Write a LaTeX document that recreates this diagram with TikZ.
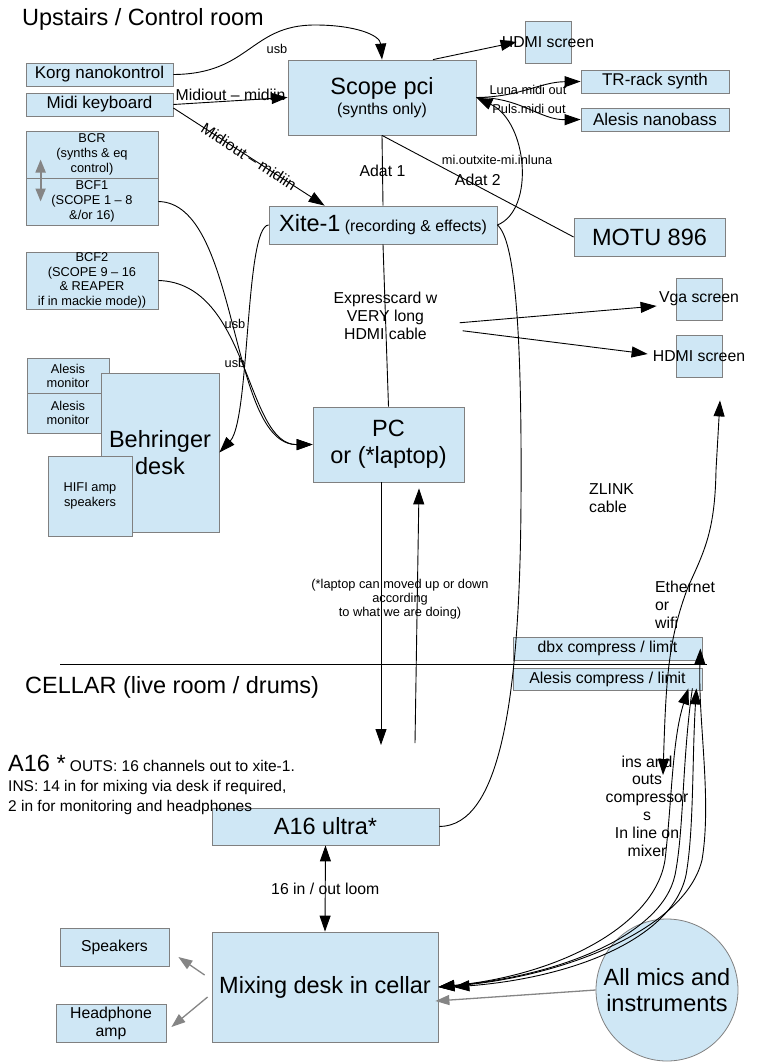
\documentclass[tikz,border=0pt]{standalone}
\usepackage{fontspec}
\setmainfont{Liberation Sans}
\usepackage{xcolor}
\usepackage{tikz}
\usetikzlibrary{positioning, arrows.meta, calc, shapes.geometric}

\definecolor{boxfill}{HTML}{CFE7F5}
\definecolor{boxline}{HTML}{808080}
\definecolor{greyarrow}{HTML}{858585}

\newcommand{\szbig}{\fontsize{23.5}{26.7}\selectfont}
\newcommand{\szbox}{\fontsize{17}{19}\selectfont}
\newcommand{\szmid}{\fontsize{15.8}{18}\selectfont}
\newcommand{\szsmall}{\fontsize{12.8}{15.3}\selectfont}

\begin{document}
\begin{tikzpicture}[x=1pt, y=-1pt,
	box/.style={draw=boxline, fill=boxfill, inner sep=0.5pt, align=center, line width=0.8pt},
	txt/.style={inner sep=0pt, align=center},
	wire/.style={line width=0.9pt},
	>={Triangle[length=16pt, width=11pt]},
	greywire/.style={draw=greyarrow, line width=1.3pt, -{Triangle[length=14pt, width=10pt]}}]
	\useasboundingbox (0,0) rectangle (774,1062);

	% Headings
	\node[txt, anchor=base west, font=\szbig] (upstairs) at (22,26) {Upstairs / Control room};
	\node[txt, anchor=base west, font=\szbig] (cellar) at (25,693) {CELLAR (live room / drums)};
	\draw[wire] (60,664) -- (707,664);

	% Upstairs gear
	\node[box, minimum width=147pt, minimum height=23pt, font=\szbox] (korg) at (99.5,74.5) {Korg nanokontrol};
	\node[box, minimum width=147pt, minimum height=23pt, font=\szbox] (midikb) at (99.5,104.5) {Midi keyboard};
	\node[box, minimum width=132pt, minimum height=47pt, font=\szsmall] (bcr) at (92,154.5) {BCR\\(synths \& eq\\control)};
	\node[box, minimum width=132pt, minimum height=47pt, font=\szsmall] (bcfone) at (92,201.5) {BCF1\\(SCOPE 1 -- 8\\\&/or 16)};
	\node[box, minimum width=132pt, minimum height=57pt, font=\fontsize{12.8}{14.5}\selectfont] (bcftwo) at (92,280.5) {BCF2\\(SCOPE 9 -- 16\\\& REAPER\\if in mackie mode))};
	\node[box, minimum width=82pt, minimum height=36pt, font=\fontsize{12.8}{14}\selectfont] (alesisa) at (68,376) {Alesis\\monitor};
	\node[box, minimum width=82pt, minimum height=40pt, font=\fontsize{12.8}{14}\selectfont] (alesisb) at (68,413) {Alesis\\monitor};
	\node[box, minimum width=118pt, minimum height=159pt, font=\szbig] (behringer) at (160,452.5) {Behringer\\desk};
	\node[box, minimum width=84pt, minimum height=80pt, font=\szsmall] (hifi) at (90,496) {HIFI amp\\speakers};

	\node[box, minimum width=188pt, minimum height=75pt, font=\szmid] (scope) at (382,97.5) {{\szbig Scope pci}\\[2pt](synths only)};
	\node[box, minimum width=46pt, minimum height=42pt, label={[txt, font=\szmid]center:HDMI screen}] (hdmia) at (548,42) {};
	\node[box, minimum width=148pt, minimum height=23pt, font=\szbox] (trrack) at (655,81.5) {TR-rack synth};
	\node[box, minimum width=148pt, minimum height=23pt, font=\szbox] (nanobass) at (655,119.5) {Alesis nanobass};
	\node[box, minimum width=151pt, minimum height=38pt, font=\szbig] (motu) at (649.5,237) {MOTU 896};
	\node[box, minimum width=228pt, minimum height=38pt, font=\szmid] (xite) at (383,225) {{\szbig Xite-1} (recording \& effects)};
	\node[box, minimum width=151pt, minimum height=75pt, font=\szbig] (pc) at (388.5,444.5) {PC\\or (*laptop)};
	\node[box, minimum width=46pt, minimum height=42pt, label={[txt, font=\szmid]center:Vga screen}] (vga) at (699,299) {};
	\node[box, minimum width=46pt, minimum height=42pt, label={[txt, font=\szmid]center:HDMI screen}] (hdmib) at (699,356) {};

	% Cellar gear
	\node[box, minimum width=189pt, minimum height=23pt, font=\szmid] (dbx) at (607.5,648.5) {dbx compress / limit};
	\node[box, minimum width=189pt, minimum height=22pt, font=\szmid] (alcomp) at (607.5,679) {Alesis compress / limit};
	\node[box, minimum width=227pt, minimum height=37pt, font=\szbig] (a16) at (325.5,826.5) {A16 ultra*};
	\node[box, minimum width=226pt, minimum height=110pt, font=\szbig] (mixer) at (325,987) {Mixing desk in cellar};
	\node[box, minimum width=109pt, minimum height=38pt, font=\szmid] (speakers) at (114.5,947) {Speakers};
	\node[box, minimum width=110pt, minimum height=38pt, font=\szmid] (headamp) at (111,1023) {Headphone\\amp};
	\node[box, circle, minimum size=142pt, inner sep=0pt, font=\szbig] (mics) at (667,990) {All mics and\\instruments};

	% Notes
	\node[txt, anchor=north west, align=left, font=\fontsize{15.5}{20}\selectfont] (a16note) at (8,755) {{\szbig A16 *} OUTS: 16 channels out to xite-1.\\INS: 14 in for mixing via desk if required,\\2 in for monitoring and headphones};
	\node[txt, font=\szsmall] at (277,49) {usb};
	\node[txt, font=\szsmall] at (235,324) {usb};
	\node[txt, font=\szsmall] at (235,363) {usb};
	\node[txt, font=\szsmall] at (528,90) {Luna midi out};
	\node[txt, font=\szsmall] at (529,109) {Puls.midi out};
	\node[txt, font=\szsmall] at (497,160) {mi.outxite-mi.inluna};
	\node[txt, font=\fontsize{12.8}{14.3}\selectfont] (laptopnote) at (400,599) {(*laptop can moved up or down\\according\\to what we are doing)};
	\node[txt, anchor=west, align=left, font=\szmid] (zlink) at (589,498) {ZLINK\\cable};
	\node[txt, anchor=west, align=left, font=\szmid] (ether) at (655,605) {Ethernet\\or\\wifi};
	\node[txt, font=\fontsize{15.8}{17.8}\selectfont] (insouts) at (647,806) {ins and\\outs\\compressor\\s\\In line on\\mixer};

	% Upstairs connections
	\draw[wire, ->] (korg.east) .. controls (250,74) and (250,25) .. (315,25) .. controls (355,25) and (380,35) .. (scope.north);
	\draw[wire, ->] (midikb.east) -- node[txt, above, font=\szmid] {Midiout -- midiin} (scope.west);
	\draw[wire, ->] ([shift={(0,3.5)}]midikb.east) -- node[txt, sloped, font=\szmid] {Midiout -- midiin} ($(xite.north west)+(56,0)$);
	\draw[wire, ->] ([shift={(51,0)}]scope.north) -- ([shift={(-8,0)}]hdmia.west);
	\draw[wire, ->] (scope.east) .. controls (520,97) and (540,82) .. (trrack.west);
	\draw[wire, ->] (scope.east) .. controls (520,97) and (540,120) .. (nanobass.west);
	\draw[wire, ->] (xite.east) .. controls (535,210) and (528,122) .. (scope.east);
	\draw[wire] (scope.south) -- node[txt, font=\szmid] {Adat 1} (xite.north);
	\draw[wire] (scope.south) -- node[txt, midway, above, font=\szmid] {Adat 2} (motu.west);
	\draw[wire] (xite.south) -- node[txt, pos=0.44, font=\szmid] (express) {Expresscard w\\VERY long\\HDMI cable} (pc.north);
	\draw[wire, ->] ([shift={(22,7)}]express.east) -- ([shift={(-19,7)}]vga.west);
	\draw[wire, ->] ([shift={(25,15)}]express.east) -- ([shift={(-28,-2)}]hdmib.west);
	\draw[wire, ->] (bcfone.east) .. controls (240,203) and (228,445) .. (pc.west);
	\draw[wire, ->] (bcftwo.east) .. controls (250,283) and (245,445) .. (pc.west);
	\draw[wire, ->] (xite.west) .. controls (245,226) and (250,420) .. (behringer.east);
	\draw[draw=greyarrow, line width=2pt, {Triangle[length=13pt, width=10pt]}-{Triangle[length=13pt, width=10pt]}] ([shift={(15,5)}]bcr.west) -- ([shift={(15,0)}]bcfone.west);

	% Between floors
	\coordinate (pcdown) at (381,745);
	\coordinate (pcup) at (415,743);
	\coordinate (ethlow) at (663,775);
	\draw[wire, ->] ([shift={(-7.5,0)}]pc.south) -- (pcdown);
	\draw[wire, ->] (pcup) -- ([shift={(30.5,6)}]pc.south);
	\draw[wire] (xite.east) .. controls (515,240) and (522,330) .. (521,500) .. controls (520,700) and (500,826) .. (a16.east);
	\draw[wire, <->] (ethlow) .. controls (666,680) and (668,640) .. (688,587) .. controls (705,550) and (715,530) .. (716,470) -- ([shift={(21,23)}]hdmib.south);

	% Cellar connections
	\draw[wire, <->] (a16.south) -- node[txt, font=\szmid] {16 in / out loom} (mixer.north);
	\draw[wire, <->] ([shift={(-2,0)}]dbx.east) .. controls (698,720) and (712,800) .. (702,860) .. controls (685,930) and (560,978) .. (mixer.east);
	\draw[wire, <->] ([shift={(-14,-2)}]alcomp.south east) .. controls (672,740) and (672,800) .. (665,860) .. controls (655,925) and (560,975) .. (mixer.east);
	\draw[wire, ->] ([shift={(-10,-2)}]alcomp.south east) .. controls (682,760) and (684,830) .. (675,875) .. controls (662,935) and (560,976) .. (mixer.east);
	\draw[wire, <->] ([shift={(-6,-2)}]alcomp.south east) .. controls (692,760) and (694,830) .. (686,875) .. controls (672,940) and (570,978) .. ([shift={(15,0)}]mixer.east);
	\draw[greywire] ([shift={(-7,-12)}]mixer.west) -- ([shift={(9,10)}]speakers.east);
	\draw[greywire] ([shift={(-4,10)}]mixer.west) -- ([shift={(5,4)}]headamp.east);
	\draw[greywire] (mics.west) -- ([shift={(-3,14)}]mixer.east);
\end{tikzpicture}
\end{document}
